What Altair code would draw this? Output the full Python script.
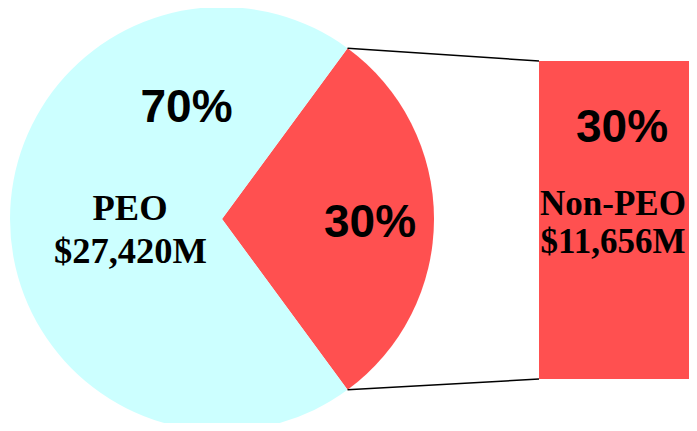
import math
import altair as alt
import pandas as pd

# ---- data ----
categories = ["Non-PEO", "PEO"]
values = [11656, 27420]
pct_labels = ["30%", "70%"]
colors = ["#FF5050", "#CCFFFF"]

total = sum(values)
df = pd.DataFrame({
    "category": categories,
    "value": values,
    "order": [0, 1],
})

# ---- layout (chart coordinates; page margin is 8px) ----
W, H = 681, 415
CX, CY, R = 214, 211, 212
BAR_LEFT, BAR_RIGHT = 531, 720
BAR_TOP, BAR_BOTTOM = 53, 371

share = values[0] / total
a0 = math.pi / 2 - math.pi * share          # start angle of Non-PEO slice
a1 = a0 + 2 * math.pi * share

pie = alt.Chart(df).mark_arc(radius=R, stroke=None).encode(
    theta=alt.Theta("value:Q", stack=True,
                    scale=alt.Scale(range=[a0, a0 + 2 * math.pi])),
    order=alt.Order("order:Q"),
    color=alt.Color("category:N",
                    scale=alt.Scale(domain=categories, range=colors),
                    legend=None),
    x=alt.value(CX),
    y=alt.value(CY),
)

bar = alt.Chart(df[df.category == categories[0]]).mark_rect(color=colors[0]).encode(
    y=alt.Y("value:Q", stack=True,
            scale=alt.Scale(domain=[0, values[0]], range=[BAR_BOTTOM, BAR_TOP]),
            axis=None),
    x=alt.value(BAR_LEFT),
    x2=alt.value(BAR_RIGHT),
)

p_top = (CX + R * math.sin(a0), CY - R * math.cos(a0))
p_bot = (CX + R * math.sin(a1), CY - R * math.cos(a1))

rule_df = pd.DataFrame({"k": [0]})
rule_top = alt.Chart(rule_df).mark_rule(color="black", strokeWidth=1.5).encode(
    x=alt.value(p_top[0]), y=alt.value(p_top[1]),
    x2=alt.value(BAR_LEFT), y2=alt.value(BAR_TOP),
)
rule_bot = alt.Chart(rule_df).mark_rule(color="black", strokeWidth=1.5).encode(
    x=alt.value(p_bot[0]), y=alt.value(p_bot[1]),
    x2=alt.value(BAR_LEFT), y2=alt.value(BAR_BOTTOM),
)


def label(txt, x, y, size, font):
    return alt.Chart(pd.DataFrame({"t": [txt]})).mark_text(
        font=font, fontSize=size, fontWeight="bold", color="black",
        align="center", baseline="alphabetic",
    ).encode(text="t:N", x=alt.value(x), y=alt.value(y))


SANS = "Liberation Sans"
SERIF = "Liberation Serif"

texts = [
    label(pct_labels[1], 178.5, 114, 46, SANS),
    label(categories[1], 122, 212, 36.5, SERIF),
    label(f"${values[1]:,}M", 122.5, 255, 36.5, SERIF),
    label(pct_labels[0], 362, 229, 46, SANS),
    label(pct_labels[0], 614, 134, 46, SANS),
    label(categories[0], 605, 207, 35, SERIF),
    label(f"${values[0]:,}M", 605, 245, 35, SERIF),
]

chart = alt.layer(pie, bar, rule_top, rule_bot, *texts).properties(
    width=W, height=H, autosize="none", padding=0, background="white"
).configure_view(stroke=None)

chart.save("out.html", embed_options={"renderer": "svg", "actions": False})
